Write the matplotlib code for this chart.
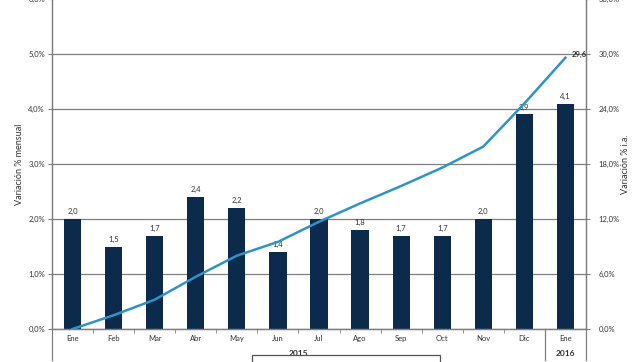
import matplotlib.pyplot as plt
from matplotlib.transforms import blended_transform_factory
from matplotlib.patches import Rectangle

meses = ["Ene", "Feb", "Mar", "Abr", "May", "Jun", "Jul", "Ago", "Sep", "Oct", "Nov", "Dic", "Ene"]
mensual = [2.0, 1.5, 1.7, 2.4, 2.2, 1.4, 2.0, 1.8, 1.7, 1.7, 2.0, 3.9, 4.1]
interanual = [0.0, 1.5, 3.2, 5.7, 8.0, 9.5, 11.7, 13.7, 15.6, 17.6, 19.9, 24.6, 29.6]
left_ticks = [0, 1, 2, 3, 4, 5, 6]
right_ticks = [0, 6, 12, 18, 24, 30, 36]

plt.rcParams['font.family'] = ['Lato', 'DejaVu Sans']

bar_color = "#0b2a4c"
line_color = "#2f93c7"
grid_color = "#7f7f7f"
txt_color = "#333333"

fig = plt.figure(figsize=(6.4, 3.62), dpi=100)
ax = fig.add_axes([52 / 640, 1 - 329 / 362, 534 / 640, 330 / 362])
ax2 = ax.twinx()

x = list(range(len(meses)))
ax.bar(x, mensual, width=0.42, color=bar_color, zorder=2)
for xi, v in zip(x, mensual):
    ax.text(xi, v + 0.07, f"{v:.1f}".replace(".", ","), ha="center", va="bottom",
            fontsize=5.5, color=txt_color)

ax.set_xlim(-0.5, 12.5)
ax.set_ylim(0, 6)
ax.set_yticks(left_ticks)
ax.set_yticklabels([f"{t:.1f}%".replace(".", ",") for t in left_ticks], fontsize=5.5, color=txt_color)
ax.yaxis.grid(True, color=grid_color, linewidth=0.9)
ax.set_axisbelow(True)
ax.set_xticks(x)
ax.set_xticklabels(meses, fontsize=5.5, color=txt_color)
ax.tick_params(axis="x", length=0, pad=4)
ax.set_xticks([i - 0.5 for i in range(14)], minor=True)
ax.tick_params(axis="x", which="minor", length=3, color=grid_color, direction="out")
ax.tick_params(axis="y", length=3, color=grid_color, pad=2)
ax.set_ylabel("Variación % mensual", fontsize=6.5, color=txt_color, labelpad=3)

ax2.plot(x, interanual, color=line_color, linewidth=1.8, zorder=3)
ax2.text(x[-1] + 0.15, interanual[-1] + 0.3, f"{interanual[-1]:.1f}".replace(".", ","),
         ha="left", va="center", fontsize=5.5, fontweight="bold", color=txt_color)
ax2.set_ylim(0, 36)
ax2.set_yticks(right_ticks)
ax2.set_yticklabels([f"{t:.1f}%".replace(".", ",") for t in right_ticks], fontsize=5.5, color=txt_color)
ax2.tick_params(axis="y", length=3, color=grid_color, pad=6)
ax2.set_ylabel("Variación % i.a.", fontsize=6.5, color=txt_color, labelpad=1)

for a in (ax, ax2):
    for s in a.spines.values():
        s.set_color(grid_color)
        s.set_linewidth(0.9)
    a.spines["top"].set_visible(False)

# separadores de años bajo el eje
tr = blended_transform_factory(ax.transData, ax.transAxes)
for xs in (-0.5, 11.5, 12.5):
    ax.plot([xs, xs], [0, -0.095], transform=tr, color=grid_color, linewidth=0.9, clip_on=False)
ax.text(5.5, -0.074, "2015", transform=tr, ha="center", va="center",
        fontsize=6, fontweight="bold", color=txt_color)
ax.text(12, -0.074, "2016", transform=tr, ha="center", va="center",
        fontsize=6, fontweight="bold", color=txt_color)

# recuadro de leyenda (recortado)
fig.patches.append(Rectangle((252 / 640, -0.05), 188 / 640, 0.05 + 1 - 355 / 362,
                             transform=fig.transFigure, fill=False,
                             edgecolor="#555555", linewidth=0.9))

fig.savefig("out.png", dpi=100)
